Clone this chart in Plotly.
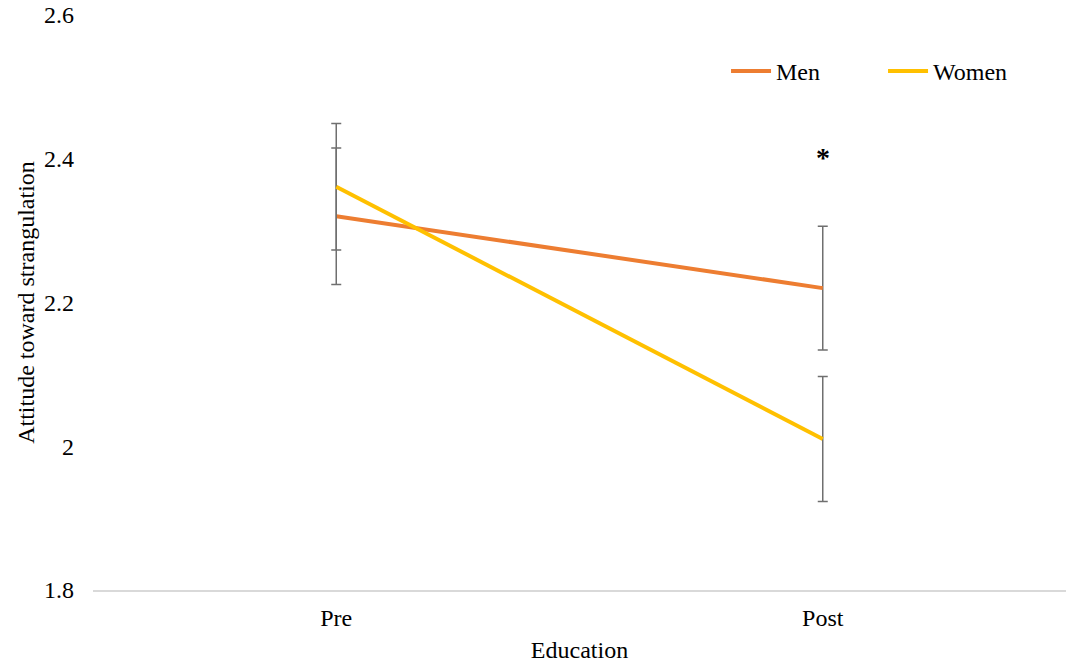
import plotly.graph_objects as go

categories = ["Pre", "Post"]
men = [2.320, 2.220]
men_err = [0.095, 0.086]
women = [2.361, 2.010]
women_err = [0.088, 0.087]
y_ticks = [1.8, 2.0, 2.2, 2.4, 2.6]
y_tick_labels = ["1.8", "2", "2.2", "2.4", "2.6"]

FONT = "Liberation Serif"
ERR_COLOR = "#6f6f6f"

fig = go.Figure()
fig.add_trace(go.Scatter(
    x=categories, y=men, mode="lines", name="Men",
    line=dict(color="#ED7D31", width=4),
    error_y=dict(type="data", array=men_err, visible=True, color=ERR_COLOR, thickness=1.5, width=5),
))
fig.add_trace(go.Scatter(
    x=categories, y=women, mode="lines", name="Women",
    line=dict(color="#FFC000", width=4),
    error_y=dict(type="data", array=women_err, visible=True, color=ERR_COLOR, thickness=1.5, width=5),
))

fig.add_annotation(x="Post", y=2.402, text="<b>*</b>", showarrow=False,
                   font=dict(family=FONT, size=28, color="#000000"))

fig.update_layout(
    width=1066, height=665,
    margin=dict(l=93, r=0, t=15, b=75, autoexpand=False),
    paper_bgcolor="white", plot_bgcolor="white",
    font=dict(family=FONT, size=24, color="#000000"),
    showlegend=True,
    legend=dict(orientation="h", x=0.6506, y=0.902, xanchor="left", yanchor="middle",
                font=dict(family=FONT, size=24), bgcolor="rgba(0,0,0,0)",
                itemwidth=40, entrywidth=102, entrywidthmode="pixels"),
    xaxis=dict(
        type="category", range=[-0.5, 1.5], automargin=False,
        showline=True, linecolor="#d9d9d9", linewidth=1.5,
        showgrid=False, zeroline=False, ticks="",
        ticklabelstandoff=5,
        tickfont=dict(family=FONT, size=24),
        title=dict(text="Education", font=dict(family=FONT, size=24), standoff=12),
    ),
    yaxis=dict(
        range=[1.8, 2.6], tickvals=y_ticks, ticktext=y_tick_labels, automargin=False,
        showline=False, showgrid=False, zeroline=False, ticks="",
        ticklabelstandoff=18, ticklabeloverflow="allow",
        tickfont=dict(family=FONT, size=24),
        title=dict(text="Attitude toward strangulation", font=dict(family=FONT, size=24), standoff=2),
    ),
)

fig.write_html("out.html", config={"displayModeBar": False},
               post_script="document.body.style.margin='0';")
